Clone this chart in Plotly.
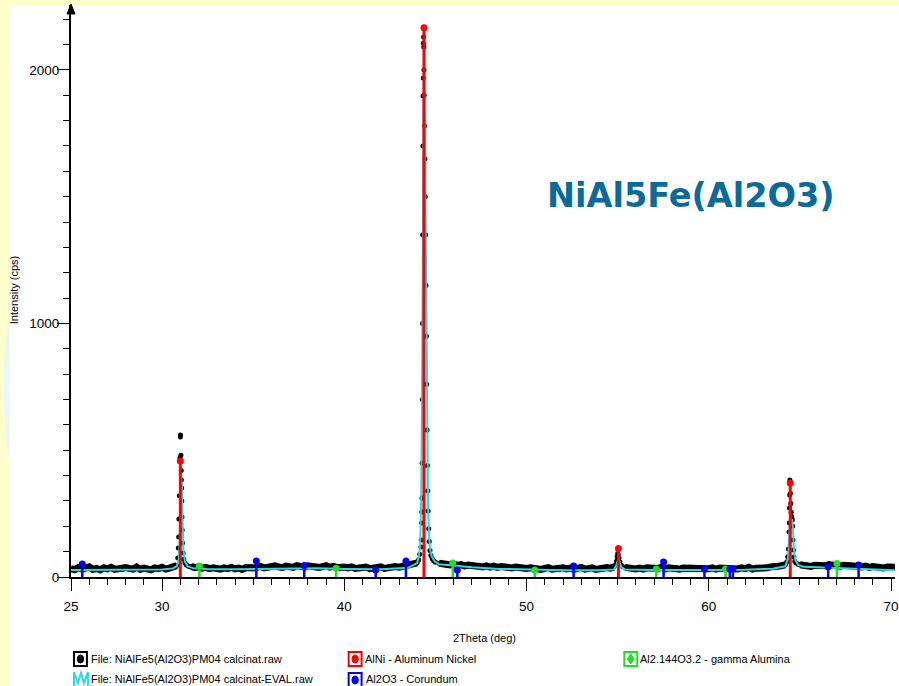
import plotly.graph_objects as go

# ---------------- data ----------------
# observed pattern (File: ...calcinat.raw), baseline segments sampled every 0.2 deg
obs_base_25 = [33, 29, 37, 31, 35, 40, 30, 34, 28, 36, 32, 38, 30, 33, 29, 37, 34, 31, 39, 30,
               35, 32, 28, 36, 33, 38, 31, 35, 40, 45]                      # 25.0 .. 30.8
obs_peak_31 = [(30.86, 75), (30.89, 114), (30.91, 158), (30.92, 229), (30.95, 320), (30.98, 469),
               (31.00, 552), (31.01, 560), (31.03, 480), (31.05, 420), (31.06, 383), (31.07, 351),
               (31.08, 300), (31.09, 237), (31.10, 185), (31.12, 134), (31.15, 95), (31.19, 70),
               (31.25, 56), (31.32, 48), (31.40, 44), (31.50, 40)]
obs_base_31 = [42, 37, 40, 35, 38, 33, 36, 34,
               31, 36, 33, 38, 32, 35, 30, 37, 34, 36,
               38, 42, 36, 41, 39, 44, 40, 37, 43, 41, 38, 45, 42, 39, 44, 40, 43, 38, 41, 45, 39, 42, 37, 41, 39,
               36, 40, 34, 38, 35, 39, 33, 37, 36, 40, 34, 38, 37, 41, 39,
               42, 45, 44, 50, 56]                                          # 31.6 .. 44.0
obs_peak_44 = [(44.08, 68), (44.14, 90), (44.20, 118), (44.22, 146), (44.24, 213), (44.25, 256),
               (44.26, 312), (44.27, 450), (44.28, 700), (44.29, 1000), (44.30, 1350), (44.31, 1700),
               (44.32, 1897), (44.33, 1968), (44.34, 2105), (44.35, 2130), (44.36, 2090), (44.37, 2000),
               (44.38, 1900), (44.40, 1780), (44.42, 1650), (44.44, 1500), (44.46, 1350), (44.48, 1150),
               (44.50, 950), (44.52, 760), (44.54, 580), (44.56, 440), (44.58, 340), (44.60, 260),
               (44.63, 190), (44.66, 140), (44.70, 105), (44.75, 85), (44.82, 72), (44.90, 64), (45.00, 58)]
obs_base_45 = [54, 50, 53, 48, 51, 46, 49, 44, 47, 45,
               42, 46, 40, 44, 39, 43, 38, 41, 37, 40, 36, 39, 35, 38, 34,
               36, 32, 35, 30, 34, 37, 31, 33, 29, 36, 32, 35, 30, 34, 38, 31, 33, 36, 30, 34, 32, 37, 35, 40]  # 45.2 .. 54.8
obs_peak_55 = [(54.88, 48), (54.93, 62), (54.97, 80), (55.00, 92), (55.03, 88), (55.07, 75),
               (55.12, 60), (55.20, 46), (55.28, 40)]
obs_base_55 = [38, 34, 37, 32, 35, 31, 36, 33, 37,
               34, 38, 32, 36, 33, 37, 31, 35, 34, 38, 32, 36, 30, 34, 33,
               36, 31, 35, 33, 37, 30, 34, 32, 36, 33, 38, 31, 35, 34, 37,
               36, 40, 38, 42, 45, 48]                                      # 55.4 .. 64.2
obs_peak_64 = [(64.28, 60), (64.33, 80), (64.37, 110), (64.40, 177), (64.42, 213), (64.43, 272),
               (64.44, 323), (64.45, 383), (64.46, 372), (64.48, 330), (64.50, 290), (64.52, 255),
               (64.54, 240), (64.56, 232), (64.58, 225), (64.60, 200), (64.62, 146), (64.64, 106),
               (64.67, 79), (64.72, 62), (64.80, 54), (64.90, 50)]
obs_base_65 = [48, 44, 47, 42, 46, 43,
               47, 44, 49, 45, 48, 43, 46, 44, 47, 42,
               44, 40, 43, 38, 41, 37, 40, 36, 39, 35, 38]                   # 65.0 .. 70.2

# calculated pattern (File: ...calcinat-EVAL.raw)
calc_2theta = [25.0, 27.0, 29.0, 30.0, 30.6, 30.8, 30.9, 30.95, 31.0, 31.05, 31.08, 31.12, 31.17, 31.25,
               31.4, 31.7, 32.5, 34.0, 35.5, 37.0, 38.5, 40.0, 42.0, 43.5, 44.0, 44.10, 44.15, 44.18,
               44.22, 44.26, 44.30, 44.34, 44.37, 44.40, 44.44, 44.48, 44.52, 44.56, 44.60, 44.65,
               44.72, 44.80, 44.95, 45.2, 46.0, 47.0, 48.5, 50.0, 52.0, 54.0, 54.8, 54.92, 55.0,
               55.06, 55.12, 55.2, 55.4, 57.0, 60.0, 62.0, 63.5, 64.2, 64.35, 64.42, 64.47, 64.52,
               64.57, 64.62, 64.67, 64.75, 64.9, 65.2, 66.5, 67.5, 68.5, 70.2]
calc_counts = [28, 28, 29, 30, 34, 42, 65, 110, 250, 395, 370, 230, 110, 60,
               42, 35, 31, 31, 33, 35, 35, 32, 31, 36, 55, 85, 120, 180,
               320, 700, 1400, 1950, 2080, 1900, 1500, 1100, 700, 420, 260, 160,
               105, 80, 62, 50, 44, 38, 32, 29, 27, 27, 30, 45, 70,
               78, 55, 38, 30, 28, 28, 29, 33, 42, 75, 160, 245, 210,
               228, 190, 110, 66, 48, 40, 37, 36, 32, 27]

# reference phases (stick patterns)
alni_2theta = [31.00, 44.37, 55.04, 64.47]
alni_int = [458, 2166, 112, 371]
corundum_2theta = [25.62, 35.17, 37.80, 41.72, 43.38, 46.20, 52.58, 57.52, 59.76, 61.15, 61.32, 66.55, 68.22]
corundum_int = [51, 63, 45, 28, 63, 28, 43, 59, 32, 32, 32, 40, 47]
gamma_2theta = [32.05, 39.55, 45.95, 50.45, 57.12, 60.92, 67.03]
gamma_int = [43, 35, 55, 28, 32, 32, 53]

x_ticks = [25, 30, 40, 50, 60, 70]
y_ticks = [0, 1000, 2000]

legend_labels = ["File: NiAlFe5(Al2O3)PM04 calcinat.raw", "AlNi - Aluminum Nickel",
                 "Al2.144O3.2 - gamma Alumina", "File: NiAlFe5(Al2O3)PM04 calcinat-EVAL.raw",
                 "Al2O3 - Corundum"]
title_text = "NiAl5Fe(Al2O3)"

# ---------------- assemble ----------------
def base_seg(start, vals):
    return [round(start + 0.2 * i, 2) for i in range(len(vals))], list(vals)

segments = [base_seg(25.0, obs_base_25), base_seg(31.6, obs_base_31), base_seg(45.2, obs_base_45),
            base_seg(55.4, obs_base_55), base_seg(65.0, obs_base_65)]
peaks = [obs_peak_31, obs_peak_44, obs_peak_55, obs_peak_64]

band_x, band_y = [], []
for sx, sy in segments:
    band_x += sx + [None]
    band_y += sy + [None]

all_x, all_y = [], []
for sx, sy in segments:
    all_x += sx
    all_y += sy
for p in peaks:
    all_x += [a for a, b in p]
    all_y += [b for a, b in p]

def sticks(xs, hs):
    lx, ly = [], []
    for x, h in zip(xs, hs):
        lx += [x, x, None]
        ly += [0, h, None]
    return lx, ly

RED, BLUE, GREEN, CYAN = "#FF0000", "#0000FF", "#22DD22", "#2ED8E0"
SANS = "Liberation Sans, Arial, sans-serif"

fig = go.Figure()
fig.add_trace(go.Scatter(x=band_x, y=band_y, mode="lines", line=dict(color="black", width=7),
                         hoverinfo="skip", showlegend=False))
fig.add_trace(go.Scatter(x=all_x, y=all_y, mode="markers", marker=dict(color="black", size=5),
                         showlegend=False, name=legend_labels[0]))
fig.add_trace(go.Scatter(x=calc_2theta, y=calc_counts, mode="lines", line=dict(color=CYAN, width=2),
                         showlegend=False, name=legend_labels[3]))
for xs, hs, col, w, nm in [(gamma_2theta, gamma_int, GREEN, 2.5, legend_labels[2]),
                           (corundum_2theta, corundum_int, BLUE, 2.5, legend_labels[4]),
                           (alni_2theta, alni_int, RED, 3, legend_labels[1])]:
    lx, ly = sticks(xs, hs)
    fig.add_trace(go.Scatter(x=lx, y=ly, mode="lines", line=dict(color=col, width=w),
                             showlegend=False, hoverinfo="skip"))
    fig.add_trace(go.Scatter(x=xs, y=hs, mode="markers", marker=dict(color=col, size=7),
                             showlegend=False, name=nm))

# pixel -> paper helpers (plot area: x 71..899, y 5..577)
def xp(px):
    return (px - 71) / 828.0

def yp(py):
    return (577 - py) / 572.0

shapes = []
# slide background: white panel over pale yellow
shapes.append(dict(type="rect", xref="paper", yref="paper", x0=xp(9), x1=xp(905), y0=yp(700), y1=yp(6),
                   line=dict(width=0), fillcolor="white", layer="below"))
shapes.append(dict(type="path", xref="paper", yref="paper", layer="below",
                   path="M %f,%f Q %f,%f %f,%f L %f,%f Z" % (xp(9), yp(315), xp(-2), yp(390), xp(9), yp(462),
                                                             xp(9), yp(315)),
                   line=dict(width=0), fillcolor="#E8F6FF"))
# y-axis arrow
shapes.append(dict(type="path", xref="paper", yref="paper",
                   path="M %f,%f L %f,%f L %f,%f Z" % (xp(67), yp(14), xp(75), yp(14), xp(71), yp(4)),
                   line=dict(color="black", width=1), fillcolor="black"))

# legend icons
def box(x0, y0, col):
    shapes.append(dict(type="rect", xref="paper", yref="paper", x0=xp(x0), x1=xp(x0 + 13),
                       y0=yp(y0 + 14), y1=yp(y0), line=dict(color=col, width=2), fillcolor="white"))

def dot(cx, cy, col):
    shapes.append(dict(type="circle", xref="paper", yref="paper", x0=xp(cx - 3.2), x1=xp(cx + 3.2),
                       y0=yp(cy + 4), y1=yp(cy - 4), line=dict(color=col, width=1), fillcolor=col))

box(74, 652, "black"); dot(80.5, 659, "black")
box(350, 652, RED); dot(356.5, 659, RED)
box(627, 652, GREEN)
shapes.append(dict(type="path", xref="paper", yref="paper",
                   path="M %f,%f L %f,%f L %f,%f L %f,%f Z" % (xp(633.5), yp(654), xp(637), yp(659),
                                                               xp(633.5), yp(664), xp(630), yp(659)),
                   line=dict(color=GREEN, width=1), fillcolor=GREEN))
box(350, 673, BLUE); dot(356.5, 680, BLUE)
shapes.append(dict(type="path", xref="paper", yref="paper",
                   path="M %f,%f L %f,%f L %f,%f L %f,%f L %f,%f L %f,%f L %f,%f" % (
                       xp(74), yp(687), xp(74), yp(672), xp(78), yp(683), xp(81), yp(673),
                       xp(84), yp(683), xp(88), yp(672), xp(88), yp(687)),
                   line=dict(color=CYAN, width=2)))

annotations = []
leg_pos = [(89, 659), (364, 659), (641, 659), (89, 679), (365, 679)]
for (px, py), txt in zip(leg_pos, legend_labels):
    annotations.append(dict(xref="paper", yref="paper", x=xp(px), y=yp(py), xanchor="left", yanchor="middle",
                            text=txt, showarrow=False, font=dict(family=SANS, size=11, color="black")))
annotations.append(dict(xref="paper", yref="paper", x=xp(14), y=yp(290), text="Intensity (cps)",
                        textangle=-90, showarrow=False, xanchor="center", yanchor="middle",
                        font=dict(family=SANS, size=11, color="black")))
annotations.append(dict(xref="paper", yref="paper", x=xp(487), y=yp(638), text="2Theta (deg)",
                        showarrow=False, xanchor="center", yanchor="middle",
                        font=dict(family=SANS, size=11, color="black")))
annotations.append(dict(xref="paper", yref="paper", x=xp(694), y=yp(195), text="<b>%s</b>" % title_text,
                        showarrow=False, xanchor="center", yanchor="middle",
                        font=dict(family="DejaVu Sans", size=33.5, color="#0B6A9C")))

fig.update_layout(
    width=899, height=686,
    margin=dict(l=71, r=0, t=5, b=109),
    paper_bgcolor="#FFFFCC", plot_bgcolor="white",
    showlegend=False,
    shapes=shapes, annotations=annotations,
    xaxis=dict(range=[25, 70.218], tickvals=x_ticks, ticktext=[str(v) for v in x_ticks],
               showgrid=False, zeroline=False, showline=True, linecolor="black", linewidth=2,
               ticks="outside", ticklen=12, tickwidth=1, tickcolor="black", ticklabeloverflow="allow",
               minor=dict(dtick=1, tick0=25, ticks="outside", ticklen=6, tickwidth=1, tickcolor="black"),
               tickfont=dict(family=SANS, size=13.5, color="black"), ticklabelstandoff=4),
    yaxis=dict(range=[0, 2256], tickvals=y_ticks, ticktext=[str(v) for v in y_ticks],
               showgrid=False, zeroline=False, showline=True, linecolor="black", linewidth=2,
               ticks="outside", ticklen=12, tickwidth=1, tickcolor="black",
               minor=dict(dtick=100, tick0=0, ticks="outside", ticklen=6, tickwidth=1, tickcolor="black"),
               tickfont=dict(family=SANS, size=13.5, color="black"), ticklabelstandoff=-5),
)

fig.write_html("out.html", config={"displayModeBar": False},
               post_script="document.body.style.margin='0';document.body.style.overflow='hidden';")
